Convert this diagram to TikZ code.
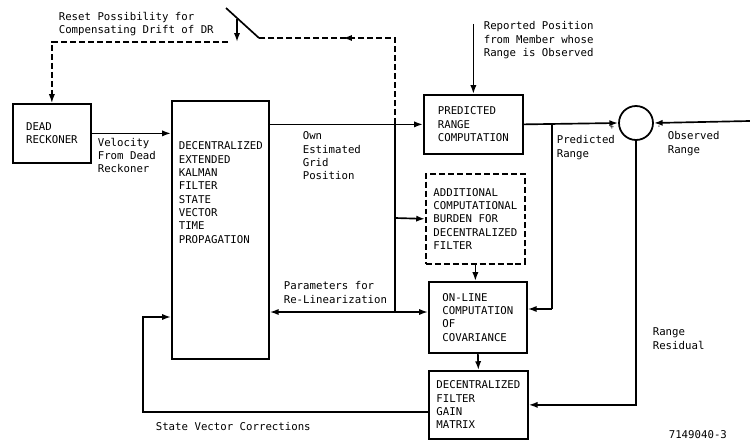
\documentclass[tikz,border=0pt]{standalone}
\usepackage{fontspec}
\setmainfont{DejaVu Sans Mono}
\usetikzlibrary{arrows.meta,positioning,decorations.markings}

\begin{document}
\begin{tikzpicture}[x=0.02cm, y=-0.02cm, line width=0.95pt,
    every node/.style={font=\fontsize{6.1}{7.6}\selectfont, align=left},
    blk/.style={draw, line width=1pt, inner sep=0pt, anchor=north west},
    lbl/.style={anchor=north west, inner sep=0pt},
    conn/.style={-{Latex[length=5pt,width=3.5pt]}},
    fb/.style={dash pattern=on 3.4pt off 1.7pt}]
    \useasboundingbox (0,0) rectangle (750,442);

    % Blocks
    \node[blk, minimum width=1.56cm, minimum height=1.18cm] (dr) at (12,103) {DEAD\\RECKONER};
    \node[blk, minimum width=1.94cm, minimum height=5.16cm] (dekf) at (171,100) {};
    \node[lbl] (dekftxt) at (178,141) {DECENTRALIZED\\EXTENDED\\KALMAN\\FILTER\\STATE\\VECTOR\\TIME\\PROPAGATION};
    \node[blk, minimum width=1.98cm, minimum height=1.18cm] (prc) at (423,94) {PREDICTED\\RANGE\\COMPUTATION};
    \node[blk, fb, minimum width=1.98cm, minimum height=1.8cm] (add) at (425,173) {ADDITIONAL\\COMPUTATIONAL\\BURDEN FOR\\DECENTRALIZED\\FILTER};
    \node[blk, minimum width=1.96cm, minimum height=1.42cm] (cov) at (428,281) {ON-LINE\\COMPUTATION\\OF\\COVARIANCE};
    \node[blk, minimum width=1.98cm, minimum height=1.36cm] (gain) at (428,370) {DECENTRALIZED\\FILTER\\GAIN\\MATRIX};
    \node[draw, circle, line width=1pt, minimum size=0.68cm, inner sep=0pt] (sum) at (636,123) {};

    % Junction points
    \coordinate (swR) at (259,38);
    \coordinate (swL) at (228,42);
    \coordinate (j1) at (395,123.5);
    \coordinate (j2) at (552,123.5);
    \coordinate (j2b) at (552,309);
    \coordinate (j3) at (395,312);
    \coordinate (obs) at (750,121);
    \coordinate (svc) at (143,317);

    % Reset switch (dashed)
    \draw[fb, line width=0.8pt, postaction={decorate, decoration={markings, mark=at position 0.62 with {\arrow{Latex[length=5pt,width=3.5pt]}}}}] (j1) |- (swR);
    \draw (226,8) -- (swR);
    \draw[conn] (237,19) -- (237,42);
    \draw[fb, line width=0.8pt, conn] (swL) -| (dr.north);

    % Signal flow
    \draw[conn] (dr.east) -- (dr.east -| dekf.west);
    \draw[conn] (prc.west -| dekf.east) -- (prc.west);
    \draw[conn] (prc.north) ++(0,-70) -- (prc.north);
    \draw[conn] (prc.east) -- (sum.west);
    \draw[conn] (obs) -- (sum.east);
    \draw (j2) -- (j2b);
    \draw[conn] (j2b) -- (j2b -| cov.east);
    \draw (j1) -- (j3);
    \draw[conn] (395,218) -- (add.west);
    \draw[conn] (j3) -- (j3 -| cov.west);
    \draw[conn] (j3) -- (j3 -| dekf.east);
    \draw[conn] (add.south) -- (add.south |- cov.north);
    \draw[conn] (cov.south) -- (gain.north);
    \draw[conn] (sum.south) |- (gain.east);
    \draw[conn] ([yshift=-4pt]gain.west) -| (svc) -- (svc -| dekf.west);

    % Labels
    \node[lbl] (reset) at (58,11) {Reset Possibility for\\Compensating Drift of DR};
    \node[lbl] (reported) at (483,21) {Reported Position\\from Member whose\\Range is Observed};
    \node[lbl] (velo) at (97,137) {Velocity\\From Dead\\Reckoner};
    \node[lbl] (own) at (302,131) {Own\\Estimated\\Grid\\Position};
    \node[lbl] (predr) at (556,135) {Predicted\\Range};
    \node[lbl] (obsr) at (667,131) {Observed\\Range};
    \node[lbl] (param) at (283,281) {Parameters for\\Re-Linearization};
    \node[lbl] (resid) at (652,327) {Range\\Residual};
    \node[lbl] (corr) at (155,422) {State Vector Corrections};
    \node[lbl, font=\fontsize{4}{5}\selectfont] (plus) at (609,125) {+};
    \node[lbl, font=\fontsize{4}{5}\selectfont] (minus) at (656,125) {-};
    \node[lbl] (fignum) at (668,430) {7149040-3};
\end{tikzpicture}
\end{document}
